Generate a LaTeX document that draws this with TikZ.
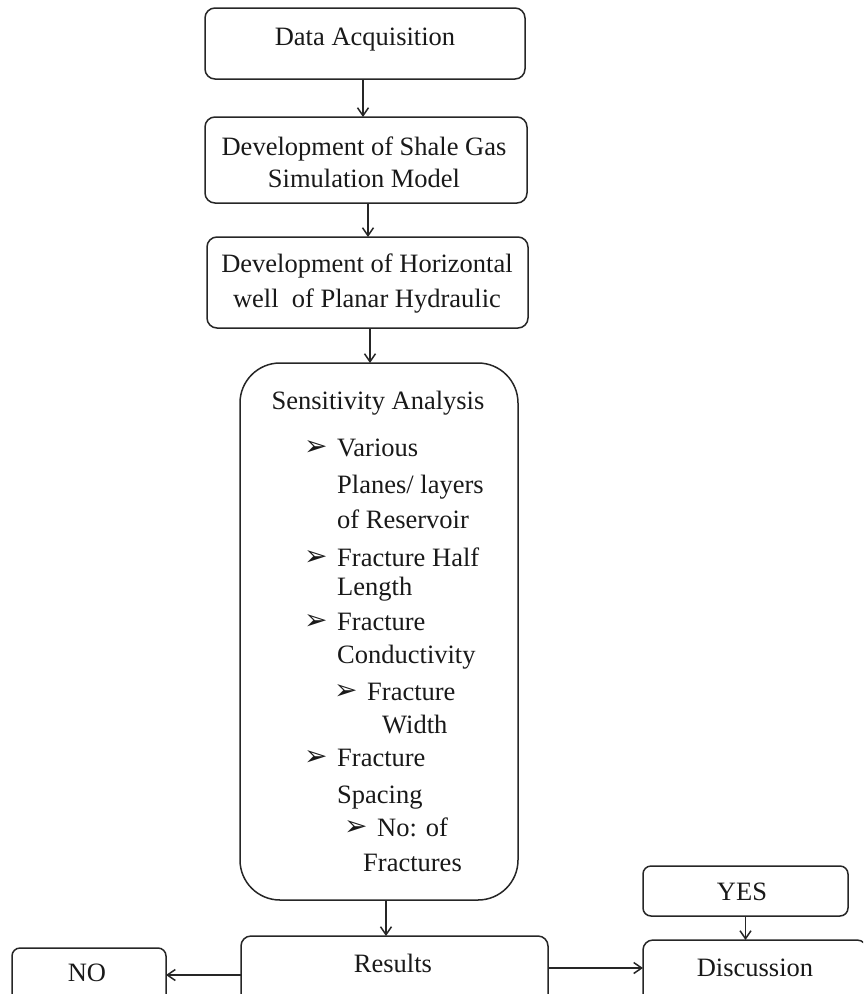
\documentclass[tikz,border=0pt]{standalone}
\usepackage{fontspec}
\setmainfont{Liberation Serif}
\newfontfamily\dejavu{DejaVu Sans}
\usetikzlibrary{arrows.meta}
\begin{document}
\begin{tikzpicture}[x=1pt,y=-1pt,
  box/.style={draw=black!85, line width=1.5pt, rounded corners=10pt, inner sep=0pt, outer sep=0pt},
  lbl/.style={inner sep=0pt, font=\fontsize{26.5}{32}\selectfont, align=center, text=black!90},
  itm/.style={inner sep=0pt, anchor=base west, font=\fontsize{26.5}{32}\selectfont, text=black!90},
  bul/.style={inner sep=0pt, anchor=west, font=\dejavu\fontsize{28}{28}\selectfont, text=black!90},
  arr/.style={draw=black!85, line width=1.5pt, -{Straight Barb[length=8pt,width=11pt,line width=1.5pt]}}]
\useasboundingbox (0,0) rectangle (863,994);
\clip (0,0) rectangle (863,994);
% boxes
\node[box, minimum width=320pt, minimum height=71pt] (b1) at (365,43.5) {};
\node[box, minimum width=322pt, minimum height=86pt] (b2) at (366,160) {};
\node[box, minimum width=321pt, minimum height=91pt] (b3) at (367.5,282.5) {};
\node[box, rounded corners=40pt, minimum width=278pt, minimum height=537pt] (b4) at (379,631.5) {};
\node[box, minimum width=307pt, minimum height=80pt] (res) at (394.5,976) {};
\node[box, rounded corners=8pt, minimum width=154pt, minimum height=60pt] (no) at (89,978) {};
\node[box, rounded corners=8pt, minimum width=205pt, minimum height=50pt] (yes) at (745.5,891) {};
\node[box, minimum width=224pt, minimum height=70pt] (disc) at (755,975) {};
% labels
\node[lbl, anchor=base] (t1) at (365,45) {Data Acquisition};
\node[lbl, font=\fontsize{26.5}{32}\selectfont] (t2) at (364,162) {Development of Shale Gas\\Simulation Model};
\node[lbl, font=\fontsize{26.5}{35}\selectfont] (t3) at (367,284) {Development of Horizontal\\well\ \ of Planar Hydraulic};
\node[lbl, anchor=base] (t4) at (378,409) {Sensitivity Analysis};
\node[lbl] (tres) at (393,963) {Results};
\node[lbl] (tno) at (87,973) {NO};
\node[lbl] (tyes) at (742,892) {YES};
\node[lbl] (tdisc) at (755,968) {Discussion};
% items
\node[bul] (u1) at (304,448) {➢};
\node[itm] (i1) at (337,456) {Various};
\node[itm] (i2) at (337,493) {Planes/ layers};
\node[itm] (i3) at (337,528) {of Reservoir};
\node[bul] (u2) at (304,558) {➢};
\node[itm] (i4) at (337,566) {Fracture Half};
\node[itm] (i5) at (337,595) {Length};
\node[bul] (u3) at (304,622) {➢};
\node[itm] (i6) at (337,630) {Fracture};
\node[itm] (i7) at (337,663) {Conductivity};
\node[bul] (u4) at (334,692) {➢};
\node[itm] (i8) at (367,700) {Fracture};
\node[itm] (i9) at (382,733) {Width};
\node[bul] (u5) at (304,758) {➢};
\node[itm] (i10) at (337,766) {Fracture};
\node[itm] (i11) at (337,803) {Spacing};
\node[bul] (u6) at (344,828) {➢};
\node[itm] (i12) at (377,836) {No: of};
\node[itm] (i13) at (363,871) {Fractures};
% connectors
\draw[arr] ([xshift=-2pt]b1.south) -- ([xshift=-2pt]b1.south |- b2.north);
\draw[arr] ([xshift=2pt]b2.south) -- ([xshift=2pt]b2.south |- b3.north);
\draw[arr] ([xshift=2.5pt]b3.south) -- ([xshift=2.5pt]b3.south |- b4.north);
\draw[arr] ([xshift=7pt]b4.south) -- ([xshift=7pt]b4.south |- res.north);
\draw[arr] (res.west |- 0,975) -- (no.east |- 0,975);
\draw[arr] (res.east |- 0,968) -- (disc.west |- 0,968);
\draw[arr] (yes.south) -- (yes.south |- disc.north);
\end{tikzpicture}
\end{document}
